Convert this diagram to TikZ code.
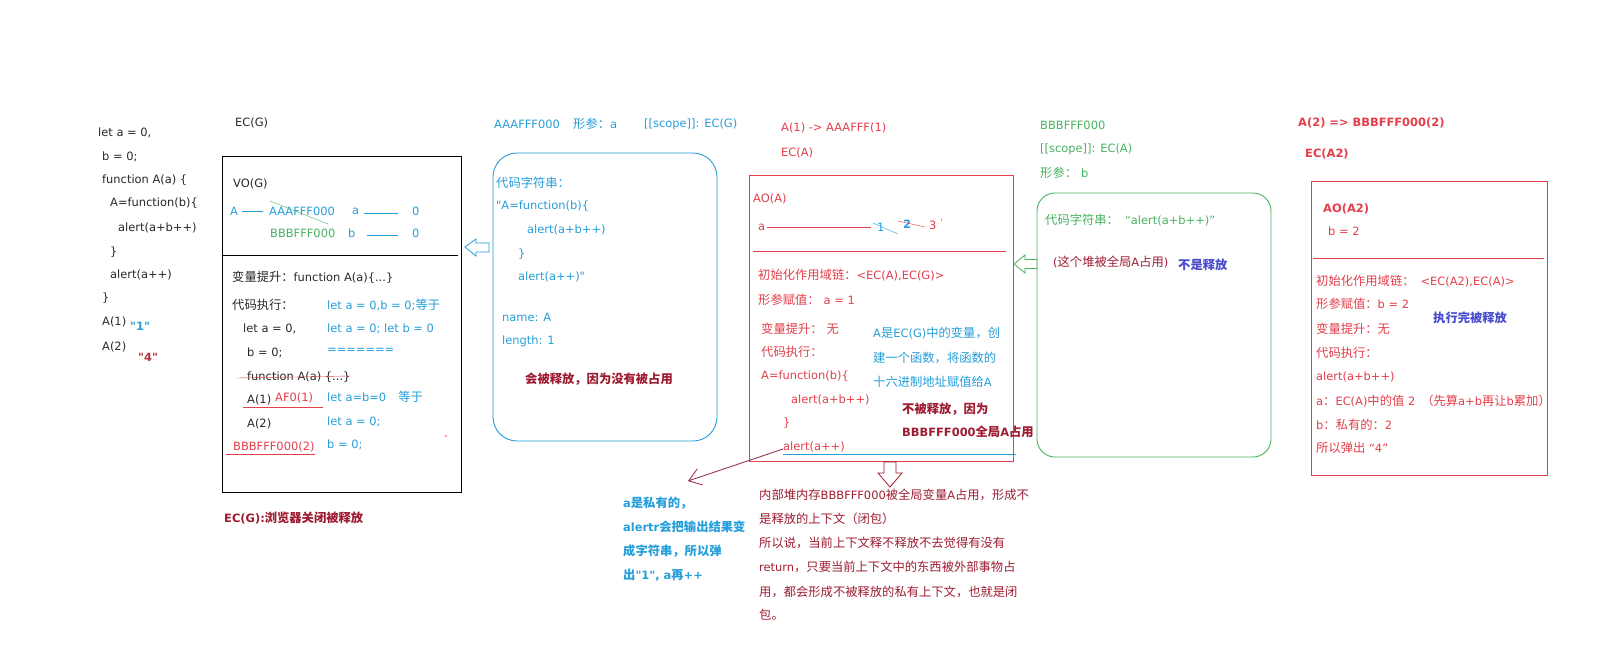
\documentclass[tikz,border=0pt]{standalone}
\usepackage{fontspec}
\setmainfont{DejaVu Sans}[Scale=0.93, Ligatures=TeXOff]
\newfontfamily\cjkfont{Noto Sans CJK SC}[Ligatures=TeXOff]
% CJK characters switch to the CJK family on their own
\XeTeXinterchartokenstate=1
\newXeTeXintercharclass\cjkclass
\count255="3000
\loop \XeTeXcharclass\count255=\cjkclass
  \ifnum\count255<"303F \advance\count255 by 1 \repeat
\count255="4E00
\loop \XeTeXcharclass\count255=\cjkclass
  \ifnum\count255<"9FFF \advance\count255 by 1 \repeat
\count255="FF00
\loop \XeTeXcharclass\count255=\cjkclass
  \ifnum\count255<"FFEF \advance\count255 by 1 \repeat
\XeTeXinterchartoks 0 \cjkclass = {\begingroup\cjkfont}
\XeTeXinterchartoks 4095 \cjkclass = {\begingroup\cjkfont}
\XeTeXinterchartoks \cjkclass 0 = {\endgroup}
\XeTeXinterchartoks \cjkclass 4095 = {\endgroup}
\usetikzlibrary{positioning,arrows.meta}
\definecolor{jsink}{RGB}{40,40,40}
\definecolor{jsblue}{RGB}{38,158,218}
\definecolor{jsgreen}{RGB}{72,178,96}
\definecolor{jsred}{RGB}{228,62,74}
\definecolor{jsmaroon}{RGB}{158,28,50}
\definecolor{jspurple}{RGB}{72,76,205}

\begin{document}
\begin{tikzpicture}[x=1pt, y=-1pt,
  txt/.style={anchor=west, inner sep=0pt, font=\fontsize{12.3}{14}\selectfont,
              text=jsink},
  bl/.style={txt, text=jsblue},
  gr/.style={txt, text=jsgreen},
  rd/.style={txt, text=jsred},
  mr/.style={txt, text=jsmaroon},
  bold/.style={font=\fontsize{12.3}{14}\selectfont\bfseries},
  note/.style={txt, bold, text=jsmaroon},
  hint/.style={txt, bold, text=jspurple},
  frame/.style={line width=0.9pt},
  hollow/.style={line width=0.8pt, fill=white},
  ptr/.style={-{Straight Barb[length=12pt, width=17pt]}, line width=0.8pt,
              jsmaroon!80!jspurple}
]
  \fill[white] (0,0) rectangle (1614,651);
  \useasboundingbox (0,0) rectangle (1614,651);

  % Global code
  \node[txt] (g1) at (98,133) {let a = 0,};
  \node[txt] (g2) at (102,157) {b = 0;};
  \node[txt] (g3) at (102,180) {function A(a) \{};
  \node[txt] (g4) at (110,203) {A=function(b)\{};
  \node[txt] (g5) at (118,228) {alert(a+b++)};
  \node[txt] (g6) at (110,252) {\}};
  \node[txt] (g7) at (110,275) {alert(a++)};
  \node[txt] (g8) at (102,298) {\}};
  \node[txt] (g9) at (102,322) {A(1)};
  \node[txt] (g10) at (102,347) {A(2)};
  \node[bl, bold] (out1) at (130,326) {"1"};
  \node[rd, bold, text=jsred!80!black] (out4) at (138,357) {"4"};

  % EC(G)
  \node[txt] (ecg) at (235,123) {EC(G)};
  \draw[frame] (222,156) rectangle (461,492);
  \draw[line width=0.7pt] (222,255) -- (458,255);
  \node[txt] (vog) at (233,184) {VO(G)};
  \node[bl] (voA) at (230,211) {A};
  \node[bl] (voAddr) at (269,211) {AAAFFF000};
  \node[bl] (voa) at (352,211) {a};
  \node[bl] (voa0) at (412,211) {0};
  \node[gr] (voBddr) at (270,233) {BBBFFF000};
  \node[bl] (vob) at (348,233) {b};
  \node[bl] (vob0) at (412,233) {0};
  \draw[jsblue, shorten <=4pt, shorten >=6pt] (voA) -- (voAddr);
  \draw[jsblue, shorten <=5pt, shorten >=14pt] ([yshift=-2pt]voa.east) -- ([yshift=-2pt]voa0.west);
  \draw[jsblue, shorten <=11pt, shorten >=14pt] ([yshift=-2pt]vob.east) -- ([yshift=-2pt]vob0.west);
  \draw[jsgreen] (270,201) -- (328,224);

  \node[txt] (hoist) at (232,277) {变量提升：function A(a)\{...\}};
  \node[txt] (run) at (232,305) {代码执行：};
  \node[txt] (r1) at (243,329) {let a = 0,};
  \node[txt] (r2) at (247,353) {b = 0;};
  \node[txt] (r3) at (247,377) {function A(a) \{...\}};
  \node[txt] (r4) at (247,400) {A(1)};
  \node[rd] (af0) at (275,398) {AF0(1)};
  \node[txt] (r5) at (247,424) {A(2)};
  \node[rd] (bcall) at (233,447) {BBBFFF000(2)};
  \draw[jsred] ([xshift=-10pt, yshift=-1pt]r3.west) -- ([yshift=1pt]r3.east);
  \draw[jsred] (243,407) -- (323,407);
  \draw[jsred] (226,454) -- (315,454);
  \fill[jsred] (446,436) circle (0.8);

  \node[bl] (e1) at (327,305) {let a = 0,b = 0;等于};
  \node[bl] (e2) at (327,329) {let a = 0; let b = 0};
  \node[bl] (e3) at (327,351) {=======};
  \node[bl] (e4) at (327,397) {let a=b=0\hspace{12pt}等于};
  \node[bl] (e5) at (327,422) {let a = 0;};
  \node[bl] (e6) at (327,445) {b = 0;};
  \node[note] (ecgfree) at (224,518) {EC(G):浏览器关闭被释放};

  % Heap AAAFFF000
  \node[bl] (hA) at (494,124) {AAAFFF000};
  \node[bl] (hAarg) at (573,124) {形参：a};
  \node[bl] (hAscope) at (644,124) {[[scope]]: EC(G)};
  \draw[frame, jsblue, rounded corners=24pt] (493,153) rectangle (717,441);
  \node[bl] (s1) at (496,183) {代码字符串：};
  \node[bl] (s2) at (496,206) {"A=function(b)\{};
  \node[bl] (s3) at (527,230) {alert(a+b++)};
  \node[bl] (s4) at (518,254) {\}};
  \node[bl] (s5) at (518,277) {alert(a++)"};
  \node[bl] (s6) at (502,317) {name: A};
  \node[bl] (s7) at (502,341) {length: 1};
  \node[note] (hAfree) at (525,379) {会被释放，因为没有被占用};
  \coordinate (blueTip) at (465,247);
  \draw[hollow, draw=jsblue] (blueTip) -- ++(11,-8) -- ++(0,4) -- ++(13,0) -- ++(0,9)
    -- ++(-13,0) -- ++(0,4) -- cycle;

  % EC(A)
  \node[rd] (callA) at (781,128) {A(1) -> AAAFFF(1)};
  \node[rd] (eca) at (781,153) {EC(A)};
  \draw[frame, jsred] (749,175) rectangle (1013,461);
  \draw[jsred, line width=0.7pt] (753,251) -- (1006,251);
  \node[rd] (aoa) at (753,199) {AO(A)};
  \node[rd] (aoav) at (758,227) {a};
  \node[bl] (aoa1) at (877,227) {1};
  \node[bl, bold] (aoa2) at (903,224) {2};
  \node[rd] (aoa3) at (929,225) {3};
  \draw[jsred, shorten <=2pt, shorten >=6pt] (aoav) -- (aoa1);
  \draw[jsblue] (873,223) -- (898,234);
  \draw[jsred] (898,221) -- (925,227);
  \draw[jsred] (941,218) -- (941.5,221);
  \node[rd] (a1) at (758,275) {初始化作用域链：<EC(A),EC(G)>};
  \node[rd] (a2) at (758,300) {形参赋值：\hspace{4pt}a = 1};
  \node[rd] (a3) at (761,329) {变量提升：\hspace{4pt}无};
  \node[rd] (a4) at (761,352) {代码执行：};
  \node[rd] (a5) at (761,376) {A=function(b)\{};
  \node[rd] (a6) at (791,400) {alert(a+b++)};
  \node[rd] (a7) at (783,423) {\}};
  \node[rd] (alertA) at (783,447) {alert(a++)};
  \draw[jsblue] ([yshift=-7pt]alertA.west) -- (1016,454);
  \node[bl] (n1) at (873,333) {A是EC(G)中的变量，创};
  \node[bl] (n2) at (873,358) {建一个函数，将函数的};
  \node[bl] (n3) at (873,382) {十六进制地址赋值给A};
  \node[note] (keep1) at (902,409) {不被释放，因为};
  \node[note] (keep2) at (902,432) {BBBFFF000全局A占用};

  % pointer to the private note
  \coordinate (privTip) at (688,481);
  \draw[ptr] ([yshift=-2pt]alertA.west) -- (privTip);
  \node[txt, bold, text=jsblue] (p1) at (623,503) {a是私有的，};
  \node[txt, bold, text=jsblue] (p2) at (623,527) {alertr会把输出结果变};
  \node[txt, bold, text=jsblue] (p3) at (623,551) {成字符串，所以弹};
  \node[txt, bold, text=jsblue] (p4) at (623,575) {出"1", a再++};

  % closure note
  \coordinate (downTip) at (890,487);
  \draw[hollow, draw=jsmaroon] (downTip) -- ++(-12,-14) -- ++(6,0) -- ++(0,-11)
    -- ++(12,0) -- ++(0,11) -- ++(6,0) -- cycle;
  \node[mr] (c1) at (759,495) {内部堆内存BBBFFF000被全局变量A占用，形成不};
  \node[mr] (c2) at (759,519) {是释放的上下文（闭包）};
  \node[mr] (c3) at (759,543) {所以说，当前上下文释不释放不去觉得有没有};
  \node[mr] (c4) at (759,567) {return，只要当前上下文中的东西被外部事物占};
  \node[mr] (c5) at (759,592) {用，都会形成不被释放的私有上下文，也就是闭};
  \node[mr] (c6) at (759,615) {包。};

  % Heap BBBFFF000
  \node[gr] (hB) at (1040,125) {BBBFFF000};
  \node[gr] (hBscope) at (1040,149) {[[scope]]: EC(A)};
  \node[gr] (hBarg) at (1040,173) {形参：\hspace{4pt}b};
  \draw[frame, jsgreen, rounded corners=18pt] (1037,193) rectangle (1271,457);
  \node[gr] (hBcode) at (1045,220) {代码字符串：\hspace{6pt}“alert(a+b++)”};
  \node[mr] (hBheld) at (1053,262) {(这个堆被全局A占用)};
  \node[hint] (hBkeep) at (1178,265) {不是释放};
  \coordinate (greenTip) at (1014,264);
  \draw[hollow, draw=jsgreen] (greenTip) -- ++(11,-9) -- ++(0,4.5) -- ++(12,0) -- ++(0,9)
    -- ++(-12,0) -- ++(0,4.5) -- cycle;

  % EC(A2)
  \node[rd, bold] (callB) at (1298,123) {A(2) => BBBFFF000(2)};
  \node[rd, bold] (eca2) at (1305,154) {EC(A2)};
  \draw[frame, jsred] (1311,181) rectangle (1547,475);
  \draw[jsred, line width=0.7pt] (1313,258) -- (1544,258);
  \node[rd, bold] (aoa2h) at (1323,209) {AO(A2)};
  \node[rd] (aob) at (1328,231) {b = 2};
  \node[rd] (b1) at (1316,281) {初始化作用域链：\hspace{6pt}<EC(A2),EC(A)>};
  \node[rd] (b2) at (1316,304) {形参赋值：b = 2};
  \node[rd] (b3) at (1316,329) {变量提升：无};
  \node[rd] (b4) at (1316,353) {代码执行：};
  \node[rd] (b5) at (1316,377) {alert(a+b++)};
  \node[rd] (b6) at (1316,401) {a：EC(A)中的值 2\hspace{6pt}（先算a+b再让b累加）};
  \node[rd] (b7) at (1316,425) {b：私有的：2};
  \node[rd] (b8) at (1316,448) {所以弹出 “4”};
  \node[hint] (bfree) at (1433,318) {执行完被释放};
\end{tikzpicture}
\end{document}
